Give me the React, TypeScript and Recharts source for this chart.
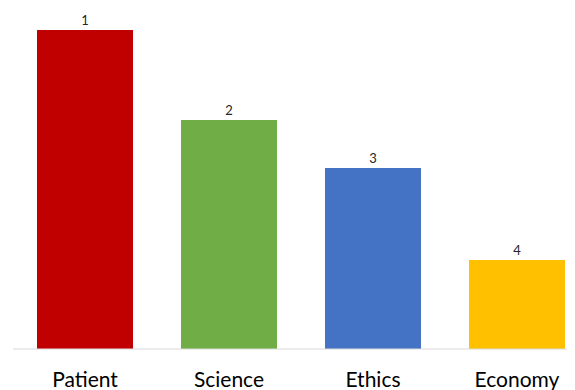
import React from 'react';
import { BarChart, Bar, XAxis, YAxis, Cell, LabelList } from 'recharts';

const categories = ['Patient', 'Science', 'Ethics', 'Economy'];
const values = [31.9, 22.9, 18.1, 8.9];
const ranks = [1, 2, 3, 4];
const colors = ['#C00000', '#70AD47', '#4472C4', '#FFC000'];

const data = categories.map((name, i) => ({ name, value: values[i], rank: ranks[i] }));

export default function App() {
  return (
    <div style={{ width: 567, height: 382, overflow: 'hidden' }}>
      <BarChart
        width={600}
        height={382}
        data={data}
        margin={{ top: 22, right: 19, left: 5, bottom: 0 }}
        barSize={96}
      >
        <YAxis hide domain={[0, 'dataMax']} />
        <XAxis
          dataKey="name"
          height={41}
          tickLine={false}
          axisLine={{ stroke: '#D9D9D9', strokeWidth: 1 }}
          tick={{ fill: '#000000', fontSize: 21, fontFamily: 'Lato, sans-serif' }}
          tickMargin={17}
        />
        <Bar dataKey="value" isAnimationActive={false}>
          {data.map((d, i) => (
            <Cell key={d.name} fill={colors[i]} />
          ))}
          <LabelList
            dataKey="rank"
            position="top"
            offset={5}
            style={{ fill: '#262626', fontSize: 13, fontFamily: 'Lato, sans-serif' }}
          />
        </Bar>
      </BarChart>
    </div>
  );
}
